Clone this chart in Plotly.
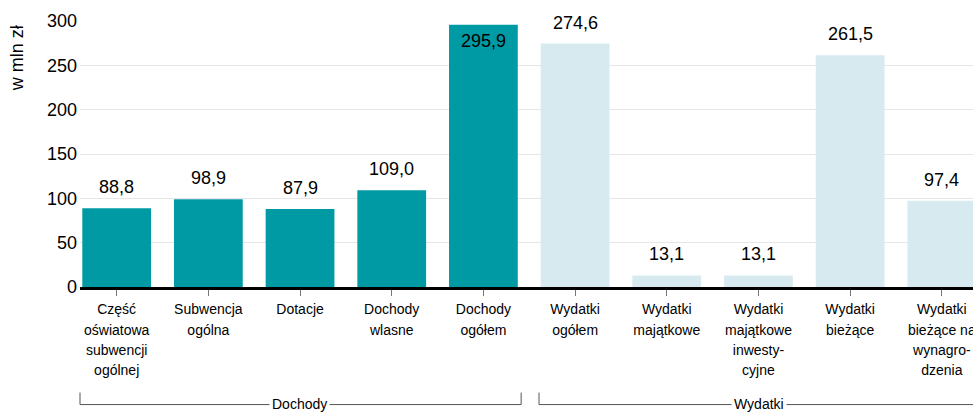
import plotly.graph_objects as go

categories = [
    "Część<br>oświatowa<br>subwencji<br>ogólnej",
    "Subwencja<br>ogólna",
    "Dotacje",
    "Dochody<br>wlasne",
    "Dochody<br>ogółem",
    "Wydatki<br>ogółem",
    "Wydatki<br>majątkowe",
    "Wydatki<br>majątkowe<br>inwesty-<br>cyjne",
    "Wydatki<br>bieżące",
    "Wydatki<br>bieżące na<br>wynagro-<br>dzenia",
]
values = [88.8, 98.9, 87.9, 109.0, 295.9, 274.6, 13.1, 13.1, 261.5, 97.4]
groups = ["Dochody"] * 5 + ["Wydatki"] * 5
y_ticks = [0, 50, 100, 150, 200, 250, 300]

TEAL = "#009aa5"
LIGHT = "#d7eaf0"
FONT = "Liberation Sans, Arial, sans-serif"

colors = [TEAL if g == "Dochody" else LIGHT for g in groups]
idx = list(range(len(categories)))

def wrap(t):
    return "<br>".join(f"<span style='font-size:14px'>{p}</span>" for p in t.split("<br>"))

fig = go.Figure()
fig.add_trace(go.Bar(
    x=idx, y=values, marker=dict(color=colors, line=dict(width=0)),
    width=0.75, hoverinfo="skip",
))

ann = []
for i, v in enumerate(values):
    txt = f"{v:.1f}".replace(".", ",")
    if v > 290:
        ann.append(dict(x=i, y=v, xref="x", yref="y", text=txt, showarrow=False,
                        yanchor="middle", yshift=-16,
                        font=dict(size=18, color="black", family=FONT)))
    else:
        ann.append(dict(x=i, y=v, xref="x", yref="y", text=txt, showarrow=False,
                        yanchor="middle", yshift=21,
                        font=dict(size=18, color="black", family=FONT)))

# y-axis title
ann.append(dict(x=-0.0705, y=0.86, xref="paper", yref="paper", text="w mln zł",
                textangle=-90, showarrow=False, xanchor="center", yanchor="middle",
                font=dict(size=18, color="black", family=FONT)))

# group brackets
yb = -0.442
ytop = -0.397
shapes = []
for x0, x1, lbl, xc in [(0.0, 0.494, "Dochody", 0.246), (0.514, 1.2, "Wydatki", 0.760)]:
    shapes.append(dict(type="line", xref="paper", yref="paper", x0=x0, x1=x1, y0=yb, y1=yb,
                       line=dict(color="#555555", width=1)))
    shapes.append(dict(type="line", xref="paper", yref="paper", x0=x0, x1=x0, y0=ytop, y1=yb,
                       line=dict(color="#555555", width=1)))
    if x1 <= 1.0:
        shapes.append(dict(type="line", xref="paper", yref="paper", x0=x1, x1=x1, y0=ytop, y1=yb,
                           line=dict(color="#555555", width=1)))
    ann.append(dict(x=xc, y=yb, xref="paper", yref="paper", text=lbl, showarrow=False,
                    xanchor="center", yanchor="middle", yshift=1, bgcolor="white", borderpad=2,
                    font=dict(size=14, color="black", family=FONT)))

fig.update_layout(
    width=973, height=412,
    margin=dict(l=80, r=0, t=21, b=125),
    plot_bgcolor="white", paper_bgcolor="white",
    showlegend=False,
    bargap=0.25,
    annotations=ann,
    shapes=shapes,
    font=dict(family=FONT, color="black"),
    xaxis=dict(
        tickmode="array", tickvals=idx, ticktext=[wrap(c) for c in categories],
        range=[-0.4, 9.34], showgrid=False, zeroline=False,
        showline=True, linecolor="black", linewidth=3,
        ticks="outside", ticklen=6, tickcolor="#777777", tickwidth=1,
        tickfont=dict(size=15.4, family=FONT, color="black"),
        automargin=False, ticklabeloverflow="allow",
    ),
    yaxis=dict(
        range=[0, 300], tickvals=y_ticks, showgrid=True, gridcolor="#e6e6e6", gridwidth=1,
        zeroline=False, showline=False, ticks="",
        tickfont=dict(size=18, family=FONT, color="black"),
        automargin=False, ticklabelstandoff=2,
    ),
)

fig.write_html(
    "out.html",
    config={"displayModeBar": False},
    post_script="document.body.style.margin='0';document.body.style.overflow='hidden';",
)
